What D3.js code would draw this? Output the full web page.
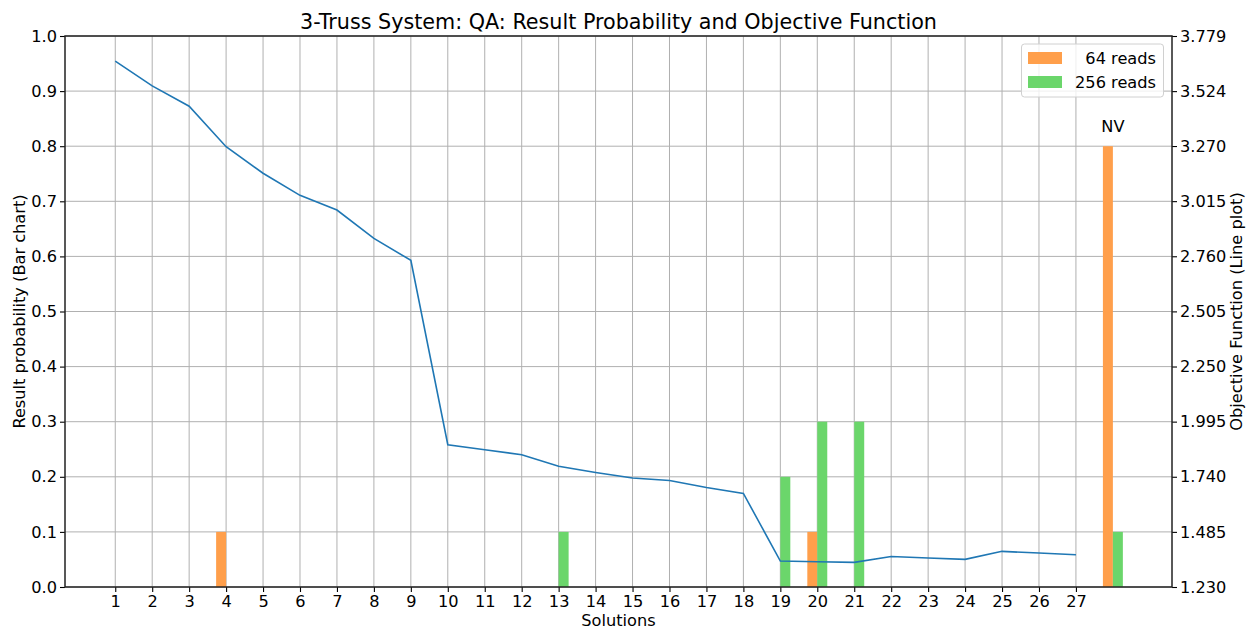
<!DOCTYPE html>
<html>
<head>
<meta charset="utf-8">
<script src="https://cdn.jsdelivr.net/npm/d3@7"></script>
<style>
  html, body { margin: 0; padding: 0; background: #fff; }
  svg { display: block; font-family: "DejaVu Sans", sans-serif; }
</style>
</head>
<body>
<svg id="chart" width="1253" height="629"></svg>
<script>
// ---- Data ----
const solutions = ["1","2","3","4","5","6","7","8","9","10","11","12","13","14","15","16","17","18","19","20","21","22","23","24","25","26","27","NV"];
const reads64  = [0,0,0,0.1,0,0,0,0,0,0,0,0,0,0,0,0,0,0,0,0.1,0,0,0,0,0,0,0,0.8];
const reads256 = [0,0,0,0,0,0,0,0,0,0,0,0,0.1,0,0,0,0,0,0.2,0.3,0.3,0,0,0,0,0,0,0.1];
const objective = [3.663,3.548,3.454,3.267,3.144,3.042,2.974,2.843,2.741,1.888,1.865,1.842,1.789,1.760,1.734,1.723,1.690,1.663,1.350,1.347,1.344,1.371,1.364,1.358,1.395,1.387,1.379];
const leftTicks = [0,0.1,0.2,0.3,0.4,0.5,0.6,0.7,0.8,0.9,1.0];
const rightTickLabels = ["1.230","1.485","1.740","1.995","2.250","2.505","2.760","3.015","3.270","3.524","3.779"];
const seriesNames = ["64 reads", "256 reads"];
const seriesColors = ["#ff9f4b", "#6bd66b"];

// ---- Layout ----
const svg = d3.select("#chart");
const L = 65, R = 1172, T = 36, B = 587;
const barW = 0.27;
const FS = 16.2;

const x = d3.scaleLinear().domain([-0.36, 29.6]).range([L, R]);
const yL = d3.scaleLinear().domain([0, 1]).range([B, T]);
const yR = d3.scaleLinear().domain([1.230, 3.779]).range([B, T]);

const pos = solutions.map((d, i) => i + 1);

// Grid
const grid = svg.append("g");
pos.slice(0, 27).forEach(p => {
  grid.append("line").attr("x1", x(p)).attr("x2", x(p)).attr("y1", T).attr("y2", B)
    .attr("stroke", "#b0b0b0").attr("stroke-width", 1);
});
leftTicks.forEach(v => {
  grid.append("line").attr("x1", L).attr("x2", R).attr("y1", yL(v)).attr("y2", yL(v))
    .attr("stroke", "#b0b0b0").attr("stroke-width", 1);
});

// Bars
const bars = svg.append("g");
bars.selectAll("rect.r64").data(reads64.map((v, i) => ({v, p: pos[i]})).filter(d => d.v > 0))
  .enter().append("rect")
  .attr("x", d => x(d.p - barW)).attr("width", d => x(d.p) - x(d.p - barW))
  .attr("y", d => yL(d.v)).attr("height", d => yL(0) - yL(d.v))
  .attr("fill", seriesColors[0]);
bars.selectAll("rect.r256").data(reads256.map((v, i) => ({v, p: pos[i]})).filter(d => d.v > 0))
  .enter().append("rect")
  .attr("x", d => x(d.p)).attr("width", d => x(d.p + barW) - x(d.p))
  .attr("y", d => yL(d.v)).attr("height", d => yL(0) - yL(d.v))
  .attr("fill", seriesColors[1]);

// NV annotation
const nvIdx = solutions.indexOf("NV");
svg.append("text").attr("x", x(pos[nvIdx])).attr("y", yL(reads64[nvIdx]) - 14)
  .attr("text-anchor", "middle").attr("font-size", FS).attr("fill", "#000").text("NV");

// Line
const line = d3.line().x((d, i) => x(pos[i])).y(d => yR(d));
svg.append("path").datum(objective).attr("d", line)
  .attr("fill", "none").attr("stroke", "#1f77b4").attr("stroke-width", 1.6);

// Axes
const xAxis = d3.axisBottom(x).tickValues(pos.slice(0, 27)).tickFormat((d, i) => solutions[i]).tickSize(5).tickPadding(3);
const gx = svg.append("g").attr("transform", `translate(0,${B})`).call(xAxis);
const gyl = svg.append("g").attr("transform", `translate(${L},0)`)
  .call(d3.axisLeft(yL).tickValues(leftTicks).tickFormat(d3.format(".1f")).tickSize(5).tickPadding(3));
const gyr = svg.append("g").attr("transform", `translate(${R},0)`)
  .call(d3.axisRight(yR).tickValues(rightTickLabels.map(Number)).tickFormat((d, i) => rightTickLabels[i]).tickSize(5).tickPadding(3));
[gx, gyl, gyr].forEach(g => {
  g.selectAll("text").attr("font-size", FS).attr("font-family", "DejaVu Sans").attr("fill", "#000");
  g.selectAll(".tick line").attr("stroke", "#000").attr("stroke-width", 1.1);
  g.select(".domain").remove();
});
// Spines
svg.append("rect").attr("x", L).attr("y", T).attr("width", R - L).attr("height", B - T)
  .attr("fill", "none").attr("stroke", "#222").attr("stroke-width", 1.5);

// Labels
svg.append("text").attr("x", (L + R) / 2).attr("y", 29).attr("text-anchor", "middle")
  .attr("font-size", 20.7).text("3-Truss System: QA: Result Probability and Objective Function");
svg.append("text").attr("x", (L + R) / 2).attr("y", 626).attr("text-anchor", "middle")
  .attr("font-size", FS).text("Solutions");
svg.append("text").attr("transform", `translate(25,${(T + B) / 2}) rotate(-90)`).attr("text-anchor", "middle")
  .attr("font-size", FS).text("Result probability (Bar chart)");
svg.append("text").attr("transform", `translate(1242,${(T + B) / 2}) rotate(-90)`).attr("text-anchor", "middle")
  .attr("font-size", FS).text("Objective Function (Line plot)");

// Legend
const lg = svg.append("g");
lg.append("rect").attr("x", 1021.5).attr("y", 44).attr("width", 142).attr("height", 53).attr("rx", 3)
  .attr("fill", "#fff").attr("fill-opacity", 0.8).attr("stroke", "#d0d0d0").attr("stroke-width", 1);
seriesNames.forEach((n, i) => {
  lg.append("rect").attr("x", 1028).attr("y", 52 + i * 24).attr("width", 34).attr("height", 12).attr("fill", seriesColors[i]);
  lg.append("text").attr("x", 1156).attr("y", 64 + i * 24).attr("text-anchor", "end").attr("font-size", FS).text(n);
});
</script>
</body>
</html>
